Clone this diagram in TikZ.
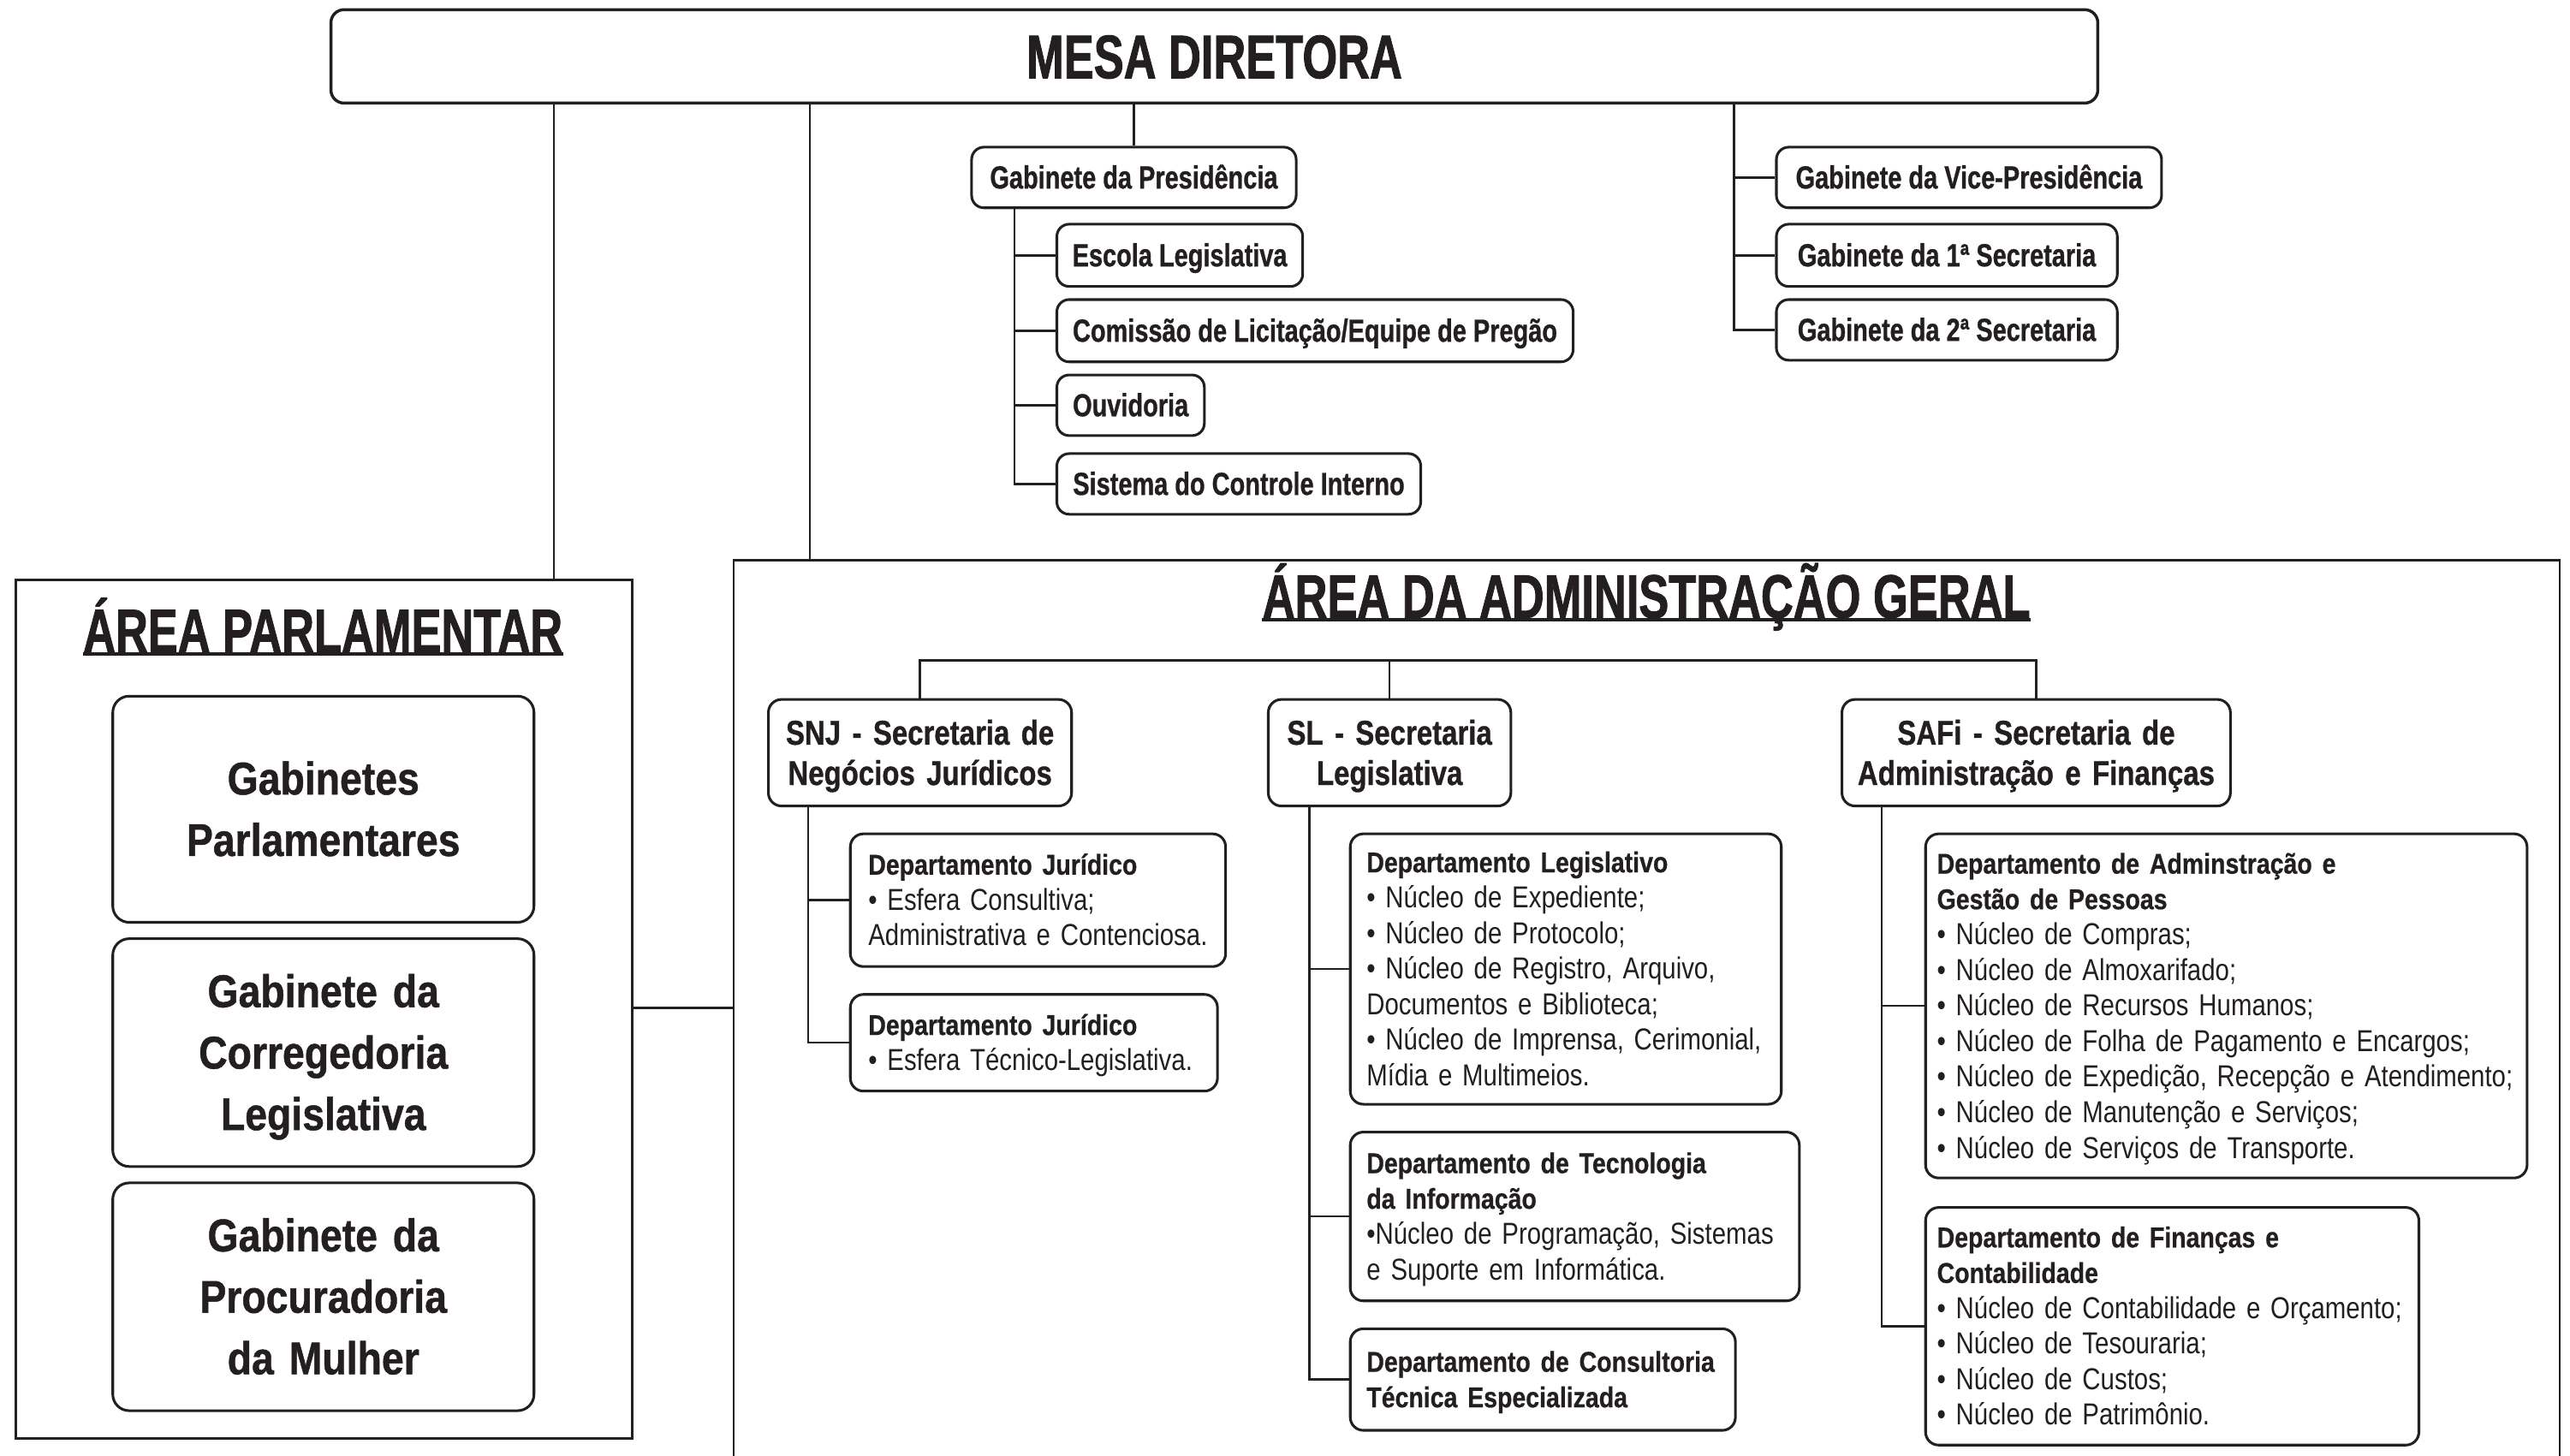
\documentclass[tikz,border=0pt]{standalone}
\usepackage{fontspec}
\setmainfont{Liberation Sans}
\newfontfamily\fTitle{Liberation Sans}[FakeStretch=0.73, BoldFeatures={FakeBold=1.2}]
\newfontfamily\fTop{Liberation Sans}[FakeStretch=0.775, BoldFeatures={FakeBold=0.8}]
\newfontfamily\fPar{Liberation Sans}[FakeStretch=0.865, BoldFeatures={FakeBold=0.9}]
\newfontfamily\fSec{Liberation Sans}[FakeStretch=0.82, BoldFeatures={FakeBold=0.8}]
\newfontfamily\fItem{Liberation Sans}[FakeStretch=0.83]
\newfontfamily\fHead{Liberation Sans}[FakeStretch=0.85, BoldFeatures={FakeBold=0.6}]
\definecolor{ink}{RGB}{35,31,32}
\newcommand\hd[1]{\mbox{\fHead\bfseries\fontsize{17.5}{21.7}\selectfont #1}}
\newcommand\li[1]{\mbox{#1}}
\begin{document}
\begin{tikzpicture}[x=1pt,y=-1pt,
  every node/.style={text=ink},
  mesabox/.style={draw=ink, line width=1.8pt, rounded corners=8pt, inner sep=0pt, anchor=north west,
    font=\fTitle\bfseries\fontsize{37.5}{44}\selectfont, text height=26.6pt, text depth=0pt},
  topbox/.style={draw=ink, line width=1.6pt, rounded corners=7.5pt, inner sep=0pt, anchor=north west,
    font=\fTop\bfseries\fontsize{19.5}{23}\selectfont, text height=13.4pt, text depth=0pt},
  areabox/.style={draw=ink, line width=1.4pt, inner sep=0pt, anchor=north west},
  areatitle/.style={inner sep=0pt, anchor=base, font=\fTitle\bfseries\fontsize{37.5}{44}\selectfont},
  ulin/.style={draw=ink, line width=2pt},
  parbox/.style={draw=ink, line width=1.6pt, rounded corners=10pt, inner sep=0pt, anchor=north west,
    align=center, text width=257pt, minimum width=257pt,
    font=\fPar\bfseries\fontsize{28}{37.5}\selectfont, text height=19.5pt},
  secbox/.style={draw=ink, line width=1.6pt, rounded corners=8pt, inner sep=0pt, anchor=north west,
    align=center, minimum height=65pt,
    font=\fSec\bfseries\fontsize{21}{24.6}\selectfont, text height=14.8pt, text depth=24.6pt},
  deptbox/.style={draw=ink, line width=1.6pt, rounded corners=8pt, inner ysep=0pt, anchor=north west,
    align=left, font=\fItem\fontsize{18.5}{21.7}\selectfont, text height=12.2pt},
  conn/.style={draw=ink, line width=1.3pt}
]
\useasboundingbox (0,0) rectangle (1568,888);
\clip (0,0) rectangle (1568,888);

% ---------- Mesa Diretora ----------
\node[mesabox, minimum width=1078pt, minimum height=57pt] (mesa) at (201,5) {MESA DIRETORA};

% ---------- top boxes ----------
\node[topbox, minimum width=198pt, minimum height=37pt] (pres) at (592,89) {Gabinete da Presidência};
\node[topbox, minimum width=150pt, minimum height=38pt] (escola) at (644,136) {Escola Legislativa};
\node[topbox, minimum width=315pt, minimum height=38pt] (comissao) at (644,182) {Comissão de Licitação/Equipe de Pregão};
\node[topbox, minimum width=90pt, minimum height=37pt] (ouvid) at (644,228) {Ouvidoria};
\node[topbox, minimum width=222pt, minimum height=37pt] (sist) at (644,276) {Sistema do Controle Interno};
\node[topbox, minimum width=235pt, minimum height=37pt] (vice) at (1083,89) {Gabinete da Vice-Presidência};
\node[topbox, minimum width=208pt, minimum height=38pt] (sec1) at (1083,136) {Gabinete da 1ª Secretaria};
\node[topbox, minimum width=208pt, minimum height=37pt] (sec2) at (1083,182) {Gabinete da 2ª Secretaria};

% ---------- Area parlamentar ----------
\node[areabox, minimum width=376pt, minimum height=524pt] (parl) at (9,353) {};
\node[areatitle] (tpar) at (197,398) {ÁREA PARLAMENTAR};
\draw[ulin] ([yshift=-1.2pt]tpar.base west) -- ([yshift=-1.2pt]tpar.base east);
\node[parbox, minimum height=138pt, text depth=37.5pt] (gp) at (68,424) {Gabinetes\\Parlamentares};
\node[parbox, minimum height=139pt, text depth=75pt] (gc) at (68,572) {Gabinete da\\Corregedoria\\Legislativa};
\node[parbox, minimum height=139pt, text depth=75pt] (gm) at (68,721) {Gabinete da\\Procuradoria\\da Mulher};

% ---------- Area administracao ----------
\node[areabox, minimum width=1114pt, minimum height=600pt] (admin) at (447,341) {};
\node[areatitle] (tadm) at (1004.5,377) {ÁREA DA ADMINISTRAÇÃO GERAL};
\draw[ulin] ([yshift=-1.2pt]tadm.base west) -- ([yshift=-1.2pt]tadm.base east);

\node[secbox, minimum width=185pt, text width=185pt] (snj) at (468,426) {SNJ - Secretaria de\\Negócios Jurídicos};
\node[secbox, minimum width=148pt, text width=148pt] (sl) at (773,426) {SL - Secretaria\\Legislativa};
\node[secbox, minimum width=237pt, text width=237pt] (safi) at (1123,426) {SAFi - Secretaria de\\Administração e Finanças};

\node[deptbox, inner xsep=11pt, text width=207pt, minimum width=229pt, minimum height=81pt, text depth=43.4pt] (dj1) at (518,508)
  {\hd{Departamento Jurídico}\\\li{• Esfera Consultiva;}\\\li{Administrativa e Contenciosa.}};
\node[deptbox, inner xsep=11pt, text width=202pt, minimum width=224pt, minimum height=59pt, text depth=21.7pt] (dj2) at (518,606)
  {\hd{Departamento Jurídico}\\\li{• Esfera Técnico-Legislativa.}};

\node[deptbox, inner xsep=10pt, text width=243pt, minimum width=263pt, minimum height=165pt, text depth=130.2pt] (leg) at (823,508)
  {\hd{Departamento Legislativo}\\\li{• Núcleo de Expediente;}\\\li{• Núcleo de Protocolo;}\\\li{• Núcleo de Registro, Arquivo,}\\\li{Documentos e Biblioteca;}\\\li{• Núcleo de Imprensa, Cerimonial,}\\\li{Mídia e Multimeios.}};
\node[deptbox, inner xsep=10pt, text width=254pt, minimum width=274pt, minimum height=103pt, text depth=65.1pt] (tec) at (823,690)
  {\hd{Departamento de Tecnologia}\\\hd{da Informação}\\\li{•Núcleo de Programação, Sistemas}\\\li{e Suporte em Informática.}};
\node[deptbox, inner xsep=10pt, text width=215pt, minimum width=235pt, minimum height=62pt, text depth=21.7pt] (cons) at (823,810)
  {\hd{Departamento de Consultoria}\\\hd{Técnica Especializada}};

\node[deptbox, inner xsep=7pt, text width=353pt, minimum width=367pt, minimum height=210pt, text depth=173.6pt] (adm) at (1174,508)
  {\hd{Departamento de Adminstração e}\\\hd{Gestão de Pessoas}\\\li{• Núcleo de Compras;}\\\li{• Núcleo de Almoxarifado;}\\\li{• Núcleo de Recursos Humanos;}\\\li{• Núcleo de Folha de Pagamento e Encargos;}\\\li{• Núcleo de Expedição, Recepção e Atendimento;}\\\li{• Núcleo de Manutenção e Serviços;}\\\li{• Núcleo de Serviços de Transporte.}};
\node[deptbox, inner xsep=7pt, text width=287pt, minimum width=301pt, minimum height=145pt, text depth=108.5pt] (fin) at (1174,736)
  {\hd{Departamento de Finanças e}\\\hd{Contabilidade}\\\li{• Núcleo de Contabilidade e Orçamento;}\\\li{• Núcleo de Tesouraria;}\\\li{• Núcleo de Custos;}\\\li{• Núcleo de Patrimônio.}};

% ---------- connectors ----------
\coordinate (xa) at (338,0);
\coordinate (xb) at (494,0);
\coordinate (xc) at (1058,0);
\coordinate (xd) at (619,0);
\coordinate (xe) at (493,0);
\coordinate (xf) at (799,0);
\coordinate (xg) at (1148,0);
\coordinate (ybar) at (0,403);
\coordinate (yp) at (0,615);

\draw[conn] (mesa.south -| xa) -- (parl.north -| xa);
\draw[conn] (mesa.south -| xb) -- (admin.north -| xb);
\draw[conn] (mesa.south -| pres.north) -- (pres.north);
\draw[conn] (mesa.south -| xc) |- (sec2.west);
\draw[conn] (xc |- vice.west) -- (vice.west);
\draw[conn] (xc |- sec1.west) -- (sec1.west);
\draw[conn] (pres.south -| xd) |- (sist.west);
\draw[conn] (xd |- escola.west) -- (escola.west);
\draw[conn] (xd |- comissao.west) -- (comissao.west);
\draw[conn] (xd |- ouvid.west) -- (ouvid.west);
\draw[conn] (parl.east |- yp) -- (admin.west |- yp);
\draw[conn] (snj.north) -- (snj.north |- ybar) -- (safi.north |- ybar) -- (safi.north);
\draw[conn] (sl.north |- ybar) -- (sl.north);
\draw[conn] (snj.south -| xe) |- (dj2.west);
\draw[conn] (xe |- dj1.west) -- (dj1.west);
\draw[conn] (sl.south -| xf) |- (cons.west);
\draw[conn] (xf |- leg.west) -- (leg.west);
\draw[conn] (xf |- tec.west) -- (tec.west);
\draw[conn] (safi.south -| xg) |- (fin.west);
\draw[conn] (xg |- adm.west) -- (adm.west);
\end{tikzpicture}
\end{document}
